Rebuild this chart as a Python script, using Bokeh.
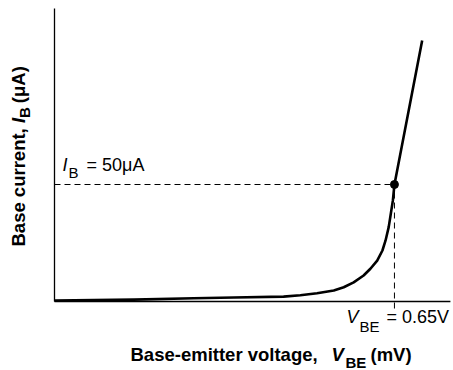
import math
from bokeh.plotting import figure
from bokeh.models import Label, Range1d
from bokeh.embed import file_html
from bokeh.resources import INLINE

# ---- data ----
VBE = [0.0, 0.152, 0.266, 0.343, 0.438, 0.470, 0.502, 0.534, 0.553, 0.572,
       0.591, 0.604, 0.617, 0.627, 0.633, 0.639, 0.642, 0.647, 0.650, 0.703]
IB = [0.4, 0.8, 1.4, 1.7, 2.1, 2.7, 3.5, 4.7, 6.1, 8.2,
      11.1, 14.0, 17.5, 21.8, 26.1, 31.8, 36.0, 43.2, 50.0, 111.5]
VBE_Q = 0.65   # V
IB_Q = 50.0    # uA

AXIS_X_END = 0.757    # end of the drawn x-axis line (V)
AXIS_Y_END = 125.2    # end of the drawn y-axis line (uA)
TICK_BELOW = -3.0     # dashed guide reaches slightly below the x axis

W, H = 453, 370
X0_PX, Y0_PX = 54, 301          # pixel position of the origin
PX_PER_V, PX_PER_UA = 523.0, 2.34

X_START = -X0_PX / PX_PER_V
X_END = (W - X0_PX) / PX_PER_V
Y_START = -(H - Y0_PX) / PX_PER_UA
Y_END = Y0_PX / PX_PER_UA

FONT = "Liberation Sans"

p = figure(width=W, height=H,
           x_range=Range1d(X_START, X_END), y_range=Range1d(Y_START, Y_END),
           x_axis_location=None, y_axis_location=None,
           output_backend="svg", toolbar_location=None,
           min_border_left=0, min_border_right=0,
           min_border_top=0, min_border_bottom=0)
p.grid.visible = False
p.outline_line_color = None
p.background_fill_color = "white"
p.border_fill_color = "white"

# axes lines
p.segment(x0=[0, 0], y0=[0, 0], x1=[AXIS_X_END, 0], y1=[0, AXIS_Y_END],
          line_color="black", line_width=1.3)

# dashed guides
p.line([0, VBE_Q], [IB_Q, IB_Q], line_color="black", line_width=1, line_dash="6 4")
p.line([VBE_Q, VBE_Q], [TICK_BELOW, IB_Q], line_color="black", line_width=1, line_dash="6 4")

# curve and operating point
p.line(VBE, IB, line_color="black", line_width=2.6, line_join="round")
p.scatter([VBE_Q], [IB_Q], size=8, color="black")

# ---- text (positioned in pixels, converted to data units) ----
def px2x(px):
    return (px - X0_PX) / PX_PER_V

def py2y(py):
    return (Y0_PX - py) / PX_PER_UA

def lab(text, px, py, size, style="normal", angle=0.0):
    p.add_layout(Label(x=px2x(px), y=py2y(py), text=text, text_font=FONT,
                       text_font_size=f"{size}px", text_font_style=style,
                       text_color="black", text_align="left",
                       text_baseline="alphabetic", angle=angle))

SH = 7  # empirical baseline correction

# I_B = 50uA
lab("I", 62, 171 - SH, 18, "italic")
lab("B", 68, 178 - SH + 1, 15)
lab("= 50μA", 86, 171 - SH, 18)

# V_BE = 0.65V
lab("V", 346, 323.5 - SH, 18, "italic")
lab("BE", 359, 332 - SH + 1, 15)
lab("= 0.65V", 386, 323.5 - SH, 18)

# x-axis title
lab("Base-emitter voltage,", 130, 361 - SH, 18.5, "bold")
lab("V", 331, 361 - SH, 18.5, "bold italic")
lab("BE", 345, 368 - SH + 1, 15, "bold")
lab("(mV)", 370, 361 - SH, 18.5, "bold")

# y-axis title (rotated), pieces chained upward from the bottom
ang = math.pi / 2
base_y = 246
bx = 25 - SH
lab("Base current,", bx, base_y, 18.5, "bold", ang)
w1 = 6.669 * 18.5
lab("I", bx, base_y - w1, 18.5, "bold italic", ang)
w2 = 0.278 * 18.5
lab("B", bx + 6, base_y - w1 - w2, 15, "bold", ang)
w3 = 0.722 * 15 + 4
lab("(μA)", bx, base_y - w1 - w2 - w3, 18.5, "bold", ang)

html = file_html(p, INLINE)
open("out.html", "w").write(html)
